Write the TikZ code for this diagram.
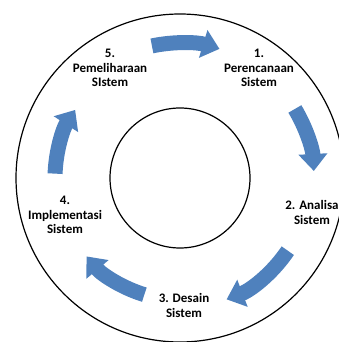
\documentclass[tikz,border=0pt]{standalone}
\usepackage{fontspec}
\setmainfont{Carlito}
\usetikzlibrary{arrows.meta}
\definecolor{cycleblue}{RGB}{79,129,189}

\begin{document}
\begin{tikzpicture}[x=1pt,y=1pt,
  every node/.style={align=center, font=\fontsize{13}{14.5}\selectfont\bfseries},
  cyc/.style={draw=cycleblue, line width=15pt, -{Triangle[width=28pt,length=17pt]}}]
\useasboundingbox (0,0) rectangle (339,342);
\coordinate (c) at (180,164);
\draw[line width=1.2pt] (c) circle[radius=164];
\draw[line width=1.2pt] (c) circle[radius=70];

\node (n1) at (259,274) {1.\\Perencanaan\\Sistem};
\node (n2) at (312,129.5) {2. Analisa\\Sistem};
\node (n3) at (184,36.5) {3. Desain\\Sistem};
\node (n4) at (65,127) {4.\\Implementasi\\Sistem};
\node (n5) at (110,274) {5.\\Pemeliharaan\\SIstem};

\coordinate (a5) at ([shift={(102:135)}]c);
\coordinate (a1) at ([shift={(31:134)}]c);
\coordinate (a2) at ([shift={(-34:130)}]c);
\coordinate (a3) at ([shift={(-107:122)}]c);
\coordinate (a4) at ([shift={(178:125)}]c);

\draw[cyc] (a5) arc[start angle=102, end angle=73, radius=135];
\draw[cyc] (a1) arc[start angle=31, end angle=3, radius=134];
\draw[cyc] (a2) arc[start angle=-34, end angle=-69, radius=130];
\draw[cyc] (a3) arc[start angle=-107, end angle=-140, radius=122];
\draw[cyc] (a4) arc[start angle=178, end angle=147, radius=125];
\end{tikzpicture}
\end{document}
